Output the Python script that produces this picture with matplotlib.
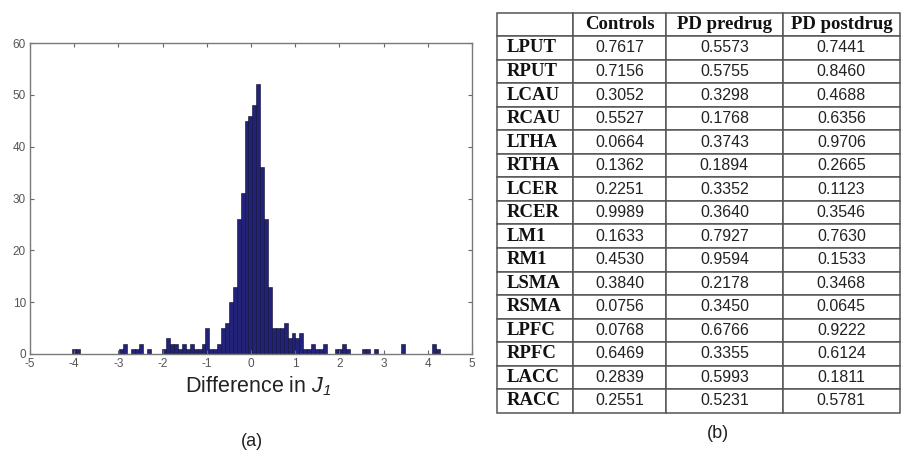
import numpy as np
import matplotlib
matplotlib.use('Agg')
import matplotlib.pyplot as plt

plt.rcParams['font.family'] = ['Liberation Sans', 'DejaVu Sans']
plt.rcParams['axes.unicode_minus'] = False
plt.rcParams['mathtext.fontset'] = 'custom'
plt.rcParams['mathtext.rm'] = 'Liberation Sans:italic'
plt.rcParams['mathtext.it'] = 'Liberation Sans:italic'

# histogram of J1 differences (94 bins from -4.04 to 4.28)
bin_lo = -4.04
bin_hi = 4.28
counts = [1, 1, 0, 0, 0, 0, 0, 0, 0, 0,
          0, 0, 1, 2, 0, 1, 1, 2, 0, 1,
          0, 0, 0, 1, 3, 2, 2, 1, 2, 1,
          2, 1, 1, 2, 5, 1, 1, 2, 5, 6,
          10, 13, 26, 31, 45, 46, 48, 52, 36, 26,
          13, 5, 5, 5, 6, 3, 4, 3, 4, 1,
          1, 2, 1, 1, 2, 0, 0, 1, 1, 2,
          1, 0, 0, 0, 1, 1, 0, 1, 0, 0,
          0, 0, 0, 0, 2, 0, 0, 0, 0, 0,
          0, 0, 2, 1]

# table (b)
regions = ['LPUT', 'RPUT', 'LCAU', 'RCAU', 'LTHA', 'RTHA', 'LCER', 'RCER',
           'LM1', 'RM1', 'LSMA', 'RSMA', 'LPFC', 'RPFC', 'LACC', 'RACC']
groups = ['Controls', 'PD predrug', 'PD postdrug']
controls = ['0.7617', '0.7156', '0.3052', '0.5527', '0.0664', '0.1362', '0.2251', '0.9989',
            '0.1633', '0.4530', '0.3840', '0.0756', '0.0768', '0.6469', '0.2839', '0.2551']
pd_predrug = ['0.5573', '0.5755', '0.3298', '0.1768', '0.3743', '0.1894', '0.3352', '0.3640',
              '0.7927', '0.9594', '0.2178', '0.3450', '0.6766', '0.3355', '0.5993', '0.5231']
pd_postdrug = ['0.7441', '0.8460', '0.4688', '0.6356', '0.9706', '0.2665', '0.1123', '0.3546',
               '0.7630', '0.1533', '0.3468', '0.0645', '0.9222', '0.6124', '0.1811', '0.5781']

W, H = 901, 453
fig = plt.figure(figsize=(W / 100, H / 100), dpi=100)

# ---- (a) histogram ----
ax = fig.add_axes([30 / W, (H - 354) / H, 442 / W, 311 / H])
edges = np.linspace(bin_lo, bin_hi, len(counts) + 1)
ax.bar(edges[:-1], counts, width=np.diff(edges), align='edge',
       color='#222278', edgecolor='#0a0a30', linewidth=0.4)
ax.set_xlim(-5, 5)
ax.set_ylim(0, 60)
ax.set_xticks(range(-5, 6))
ax.set_yticks(range(0, 61, 10))
ax.tick_params(direction='in', top=True, right=True, length=3, width=0.8,
               labelsize=8.5, labelcolor='#555555', color='#666666', pad=3)
for s in ax.spines.values():
    s.set_color('#7a7a7a')
    s.set_linewidth(1.0)

fig.text(258 / W, 1 - 386 / H, r'Difference in $J_1$',
         ha='center', va='center', fontsize=15.5, color='#222222')
fig.text(252 / W, 1 - 441 / H, '(a)', ha='center', va='center',
         fontsize=13, color='#222222')

# ---- (b) table ----
tx0, tx1 = 496.7, 899.5
ty0, ty1 = 12.7, 412.7
tax = fig.add_axes([tx0 / W, (H - ty1) / H, (tx1 - tx0) / W, (ty1 - ty0) / H])
tax.axis('off')

cell_text = [[''] + groups]
for i, r in enumerate(regions):
    cell_text.append([r, controls[i], pd_predrug[i], pd_postdrug[i]])

col_w = np.array([76.6, 92.4, 117.6, 116.4])
col_w = col_w / col_w.sum()
tbl = tax.table(cellText=cell_text, colWidths=list(col_w), cellLoc='center',
                bbox=[0, 0, 1, 1])
tbl.auto_set_font_size(False)

for (row, col), cell in tbl.get_celld().items():
    cell.set_edgecolor('#555555')
    cell.set_linewidth(1.1)
    txt = cell.get_text()
    if row == 0 or col == 0:
        txt.set_fontfamily('Liberation Serif')
        txt.set_fontweight('bold')
        txt.set_fontsize(13.5)
        txt.set_color('#111111')
    else:
        txt.set_fontfamily('Liberation Sans')
        txt.set_fontsize(11.5)
        txt.set_color('#222222')
    if col == 0:
        cell._loc = 'left'
        cell.PAD = 0.13
        txt.set_horizontalalignment('left')

fig.text(718 / W, 1 - 434 / H, '(b)', ha='center', va='center',
         fontsize=13, color='#222222')

fig.savefig('out.png', dpi=100, facecolor='white')
